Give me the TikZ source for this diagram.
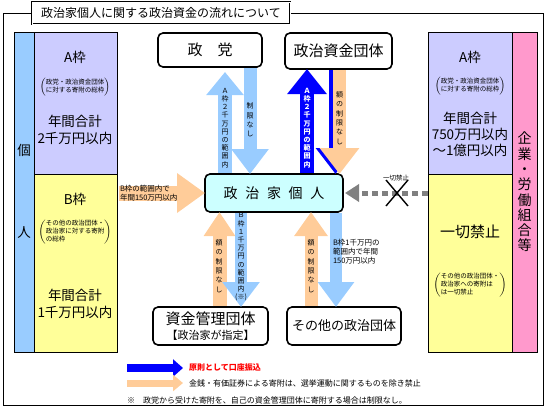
\documentclass[tikz,border=0pt]{standalone}
\usepackage{fontspec}
\setmainfont{Noto Sans CJK JP}
\usetikzlibrary{arrows.meta,shapes.misc}
\definecolor{sora}{HTML}{99CCFF}
\definecolor{fuji}{HTML}{CCCCFF}
\definecolor{kiiro}{HTML}{FFFF99}
\definecolor{momo}{HTML}{FF99CC}
\definecolor{mizu}{HTML}{CCFFFF}
\definecolor{daidai}{HTML}{FFCC99}
\definecolor{ao}{HTML}{0000FF}
\definecolor{nezumi}{HTML}{808080}
\newcommand{\kakko}[1]{$\left(\begin{tabular}{@{}l@{}}#1\end{tabular}\right)$}

\begin{document}
\begin{tikzpicture}[x=1pt, y=-1pt,
  every node/.style={inner sep=0pt, outer sep=0pt},
  waku/.style={draw, line width=0.8pt, anchor=north west},
  dantai/.style={draw, line width=1.6pt, rounded corners=5pt, fill=white, minimum height=36pt, font=\fontsize{15}{16}\selectfont},
  fat/.style n args={3}{line width=#1, -{Triangle[length=#3, width=#2]}, shorten <=1pt},
  tate/.style={align=center, font=\fontsize{7}{8.2}\selectfont},
  tatel/.style={align=center, font=\fontsize{7}{9.4}\selectfont},
  yoko/.style={align=left, anchor=west, font=\fontsize{7.5}{9}\selectfont},
  midashi/.style={align=center, font=\fontsize{13.5}{17}\selectfont},
  chu/.style={align=center, font=\fontsize{6.5}{7.5}\selectfont}]

\useasboundingbox (0,0) rectangle (547,410);
\draw[line width=0.8pt] (3,13) rectangle (543,405);
\node[draw, double, double distance=1pt, line width=0.6pt, fill=white, minimum width=258pt, minimum height=22pt, font=\fontsize{12}{12}\selectfont] (title) at (161,13) {政治家個人に関する政治資金の流れについて};

\node[waku, fill=sora, minimum width=20pt, minimum height=320pt] (kotai) at (14,32) {};
\node[waku, fill=fuji, minimum width=83pt, minimum height=142pt] (la) at (34,32) {};
\node[waku, fill=kiiro, minimum width=83pt, minimum height=178pt] (lb) at (34,174) {};
\node[midashi] (ko) at (24,150) {個}; \node[midashi] (hito) at (24,233) {人};
\node[midashi] (laname) at (75,57) {A枠};
\node[chu] (lanote) at (75,87) {\kakko{政党・政治資金団体\\に対する寄附の総枠}};
\node[midashi] (lagaku) at (75,130) {年間合計\\2千万円以内};
\node[midashi] (lbname) at (75,199) {B枠};
\node[chu] (lbnote) at (75,232) {\kakko{その他の政治団体・\\政治家に対する寄附\\の総枠}};
\node[midashi] (lbgaku) at (75,304) {年間合計\\1千万円以内};

\node[waku, fill=fuji, minimum width=84pt, minimum height=142pt] (ra) at (428,32) {};
\node[waku, fill=kiiro, minimum width=84pt, minimum height=178pt] (rb) at (428,174) {};
\node[waku, fill=momo, minimum width=25pt, minimum height=320pt] (kigyo) at (512,32) {};
\node[midashi] (raname) at (470,57) {A枠};
\node[chu] (ranote) at (470,86) {\kakko{政党・政治資金団体\\に対する寄附の総枠}};
\node[midashi, font=\fontsize{13.5}{16}\selectfont] (ragaku) at (470,134) {年間合計\\750万円以内\\～1億円以内};
\node[midashi, font=\fontsize{15}{16}\selectfont] (rbname) at (470,232) {一切禁止};
\node[chu] (rbnote) at (470,285) {\kakko{その他の政治団体・\\政治家への寄附は\\は一切禁止}};
\node[midashi, font=\fontsize{14}{15.3}\selectfont] (kigyoname) at (524.5,192) {企\\業\\・\\労\\働\\組\\合\\等};

\node[dantai, minimum width=104pt, minimum height=34pt] (seito) at (210,50) {政\hspace{1em}党};
\node[dantai, minimum width=107pt] (shikin) at (338.5,51) {政治資金団体};
\node[dantai, minimum width=138pt, minimum height=38pt, fill=mizu, font=\fontsize{14}{14}\selectfont] (kojin) at (274,193) {政\hspace{.55em}治\hspace{.55em}家\hspace{.55em}個\hspace{.55em}人};
\node[dantai, minimum width=115pt, minimum height=38pt, align=center] (kanri) at (210.5,326) {資金管理団体\\[-1pt]{\fontsize{11}{12}\selectfont【政治家が指定】}};
\node[dantai, minimum width=114pt, minimum height=38pt, font=\fontsize{13}{13}\selectfont] (sonota) at (344,326) {その他の政治団体};

\coordinate (x1) at (225,0); \coordinate (x2) at (250,0);
\coordinate (x3) at (307,0); \coordinate (x4) at (339.5,0); \coordinate (x4b) at (335.5,0);
\coordinate (x5) at (219.5,0); \coordinate (x6) at (241,0);
\coordinate (x7) at (311,0); \coordinate (x8) at (336,0);

\draw[fat={14pt}{36pt}{23pt}, draw=sora, shorten >=5pt] (x1 |- kojin.north) -- (x1 |- seito.south);
\draw[fat={13pt}{36pt}{25pt}, draw=sora] (x2 |- seito.south) -- (x2 |- kojin.north);
\draw[fat={14pt}{38pt}{25pt}, draw=ao] (x3 |- kojin.north) -- (x3 |- shikin.south);
\draw[fat={13pt}{38pt}{26pt}, draw=ao] (x4b |- shikin.south) -- (x4b |- kojin.north);
\draw[fat={13pt}{38pt}{26pt}, draw=daidai] (x4 |- shikin.south) -- (x4 |- kojin.north);
\draw[fat={15pt}{38pt}{28pt}, draw=daidai, shorten <=2pt] (lb.east |- kojin.west) -- (kojin.west);
\draw[line width=5pt, draw=nezumi, dash pattern=on 6pt off 4pt, -{Triangle[length=14pt, width=17pt]}, shorten >=2pt] (kojin.east -| rb.west) -- (kojin.east);
\node[draw, cross out, line width=1.4pt, minimum width=22pt, minimum height=26pt] (batsu) at (397,193) {};
\node[chu] (kinshi) at (396,178) {一切禁止};
\draw[fat={14pt}{30pt}{24pt}, draw=daidai] (x5 |- kanri.north) -- (x5 |- kojin.south);
\draw[fat={12pt}{36pt}{25pt}, draw=sora] (x6 |- kojin.south) -- (x6 |- kanri.north);
\draw[fat={13pt}{32pt}{24pt}, draw=daidai] (x7 |- sonota.north) -- (x7 |- kojin.south);
\draw[fat={12pt}{35pt}{25pt}, draw=sora] (x8 |- kojin.south) -- (x8 |- sonota.north);

\node[tate] (t1) at (225,128) {Ａ\\枠\\２\\千\\万\\円\\の\\範\\囲\\内};
\node[tatel] (t2) at (250,120) {制\\限\\な\\し};
\node[tate, text=white, font=\bfseries\fontsize{7}{8.2}\selectfont] (t3) at (307,128) {Ａ\\枠\\２\\千\\万\\円\\の\\範\\囲\\内};
\node[tatel] (t4) at (339.5,118) {額\\の\\制\\限\\な\\し};
\node[yoko] (t5) at (120,193) {B枠の範囲内で\\年間150万円以内};
\node[tatel] (t6) at (219,266) {額\\の\\制\\限\\な\\し};
\node[tate] (t7) at (241,257) {Ｂ\\枠\\１\\千\\万\\円\\の\\範\\囲\\内\\(※)};
\node[tatel] (t8) at (311,266) {額\\の\\制\\限\\な\\し};
\node[yoko] (t9) at (333,252) {B枠1千万円の\\範囲内で年間\\150万円以内};

\coordinate (l1a) at (126,368); \coordinate (l1b) at (183,368);
\coordinate (l2a) at (126,383); \coordinate (l2b) at (183,383);
\draw[fat={8pt}{17pt}{10pt}, draw=ao] (l1a) -- (l1b);
\draw[fat={7pt}{16pt}{10pt}, draw=daidai] (l2a) -- (l2b);
\node[yoko, text=red, font=\bfseries\fontsize{8}{9}\selectfont] (hanrei1) at (189,367) {原則として口座振込};
\node[yoko, font=\fontsize{8}{9}\selectfont] (hanrei2) at (189,383) {金銭・有価証券による寄附は、選挙運動に関するものを除き禁止};
\node[yoko, font=\fontsize{8}{9}\selectfont] (chuki) at (127,400) {※\hspace{1em}政党から受けた寄附を、自己の資金管理団体に寄附する場合は制限なし。};

\end{tikzpicture}
\end{document}
